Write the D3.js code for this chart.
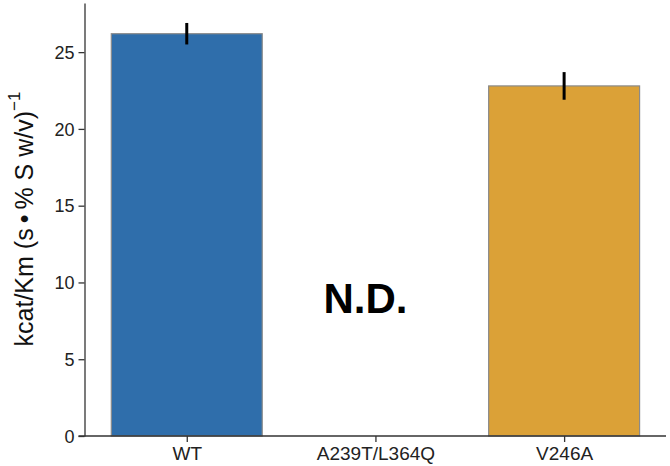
<!DOCTYPE html>
<html>
<head>
<meta charset="utf-8">
<script src="https://cdn.jsdelivr.net/npm/d3@7"></script>
<style>
  body { margin: 0; background: #fff; }
  svg { font-family: 'Liberation Sans', Arial, sans-serif; }
</style>
</head>
<body>
<svg id="chart" width="670" height="466"></svg>
<script>
const categories = ['WT', 'A239T/L364Q', 'V246A']
const values = [26.2, 0, 22.8]
const errors = [0.7, 0, 0.9]
const colors = ['#2f6eab', '#ffffff', '#dba137']
const yTicks = [0, 5, 10, 15, 20, 25]
const ndLabel = { text: 'N.D.', index: 0.947, value: 8.0 }

const svg = d3.select('#chart')
const plotLeft = 84.5
const plotRight = 666
const plotTop = 3
const plotBottom = 436

const xScale = d3.scaleLinear().domain([-0.542, 2.54]).range([plotLeft, plotRight])
const yScale = d3.scaleLinear().domain([0, 28.2]).range([plotBottom, plotTop])
const step = xScale(1) - xScale(0)
const barW = step * 0.8

const g = svg.append('g')

// bars
g.selectAll('.bar')
  .data(categories)
  .join('rect')
  .attr('class', 'bar')
  .attr('x', (d, i) => xScale(i) - barW / 2)
  .attr('width', barW)
  .attr('y', (d, i) => yScale(values[i]))
  .attr('height', (d, i) => yScale(0) - yScale(values[i]))
  .attr('fill', (d, i) => colors[i])
  .attr('stroke', (d, i) => (values[i] > 0 ? '#8a8a8a' : 'none'))
  .attr('stroke-width', 1.2)

// error bars
const withErr = d3.range(categories.length).filter(i => values[i] > 0)
g.selectAll('.err')
  .data(withErr)
  .join('line')
  .attr('class', 'err')
  .attr('x1', i => xScale(i))
  .attr('x2', i => xScale(i))
  .attr('y1', i => yScale(values[i] + errors[i]))
  .attr('y2', i => yScale(values[i] - errors[i]))
  .attr('stroke', '#000')
  .attr('stroke-width', 3)

// axes
const xAxis = d3.axisBottom(xScale)
  .tickValues(d3.range(categories.length))
  .tickFormat(i => categories[i])
  .tickSize(6)
  .tickSizeOuter(0)

const yAxis = d3.axisLeft(yScale)
  .tickValues(yTicks)
  .tickSize(6)
  .tickSizeOuter(0)

const xg = g.append('g')
  .attr('transform', `translate(0,${plotBottom})`)
  .call(xAxis)
xg.select('.domain').attr('d', `M${plotLeft - 6},0H${plotRight}`)

const yg = g.append('g')
  .attr('transform', `translate(${plotLeft},0)`)
  .call(yAxis)

g.selectAll('.domain').attr('stroke', '#333').attr('stroke-width', 1.3)
g.selectAll('.tick line').attr('stroke', '#333').attr('stroke-width', 1.3)
g.selectAll('.tick text')
  .attr('fill', '#222')
  .style('font-family', "'Liberation Sans', Arial, sans-serif")
xg.selectAll('.tick text')
  .style('font-size', '19px')
  .attr('y', 24)
  .attr('dy', 0)
yg.selectAll('.tick text')
  .style('font-size', '18px')
  .attr('x', -10)
  .attr('dy', '0.35em')

// y label
const ylab = svg.append('text')
  .attr('transform', 'translate(33,219) rotate(-90)')
  .attr('text-anchor', 'middle')
  .attr('fill', '#111')
  .style('font-size', '25px')
ylab.append('tspan').text('kcat/Km (s\u2009\u2022\u2009% S w/v)')
ylab.append('tspan')
  .attr('dy', '-0.75em')
  .style('font-size', '17px')
  .text('\u22121')

// N.D.
svg.append('text')
  .attr('x', xScale(ndLabel.index))
  .attr('y', yScale(ndLabel.value))
  .attr('text-anchor', 'middle')
  .style('font-size', '42px')
  .style('font-weight', 'bold')
  .attr('fill', '#000')
  .text(ndLabel.text)
</script>
</body>
</html>
